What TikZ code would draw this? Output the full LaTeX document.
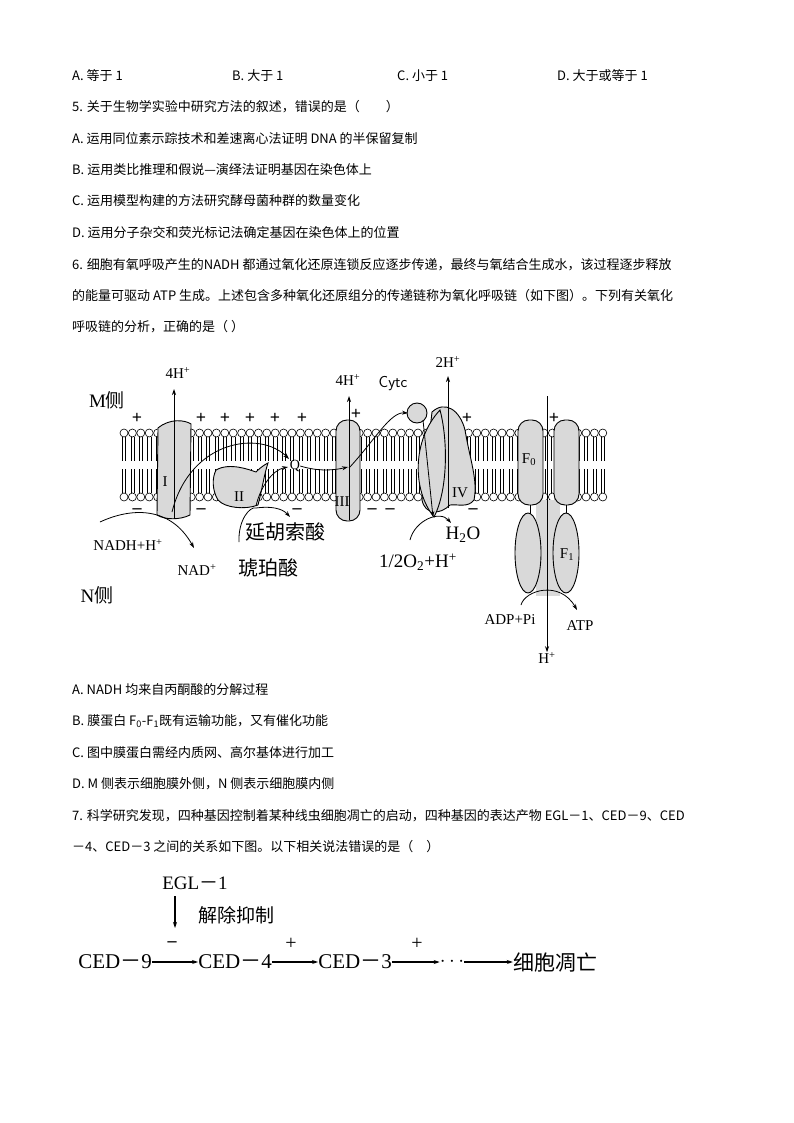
\documentclass[tikz,border=0pt]{standalone}
\usepackage{fontspec}
\setmainfont{Liberation Serif}
\newfontfamily\cjk{Noto Sans CJK SC}
\usetikzlibrary{arrows.meta}
\begin{document}
\begin{tikzpicture}[x=1pt,y=-1pt,
  tx/.style={anchor=west,inner sep=0pt,font=\fontsize{13}{15}\selectfont\cjk},
  lb/.style={inner sep=0pt,font=\fontsize{15}{17}\selectfont},
  lbb/.style={inner sep=0pt,font=\fontsize{19}{21}\selectfont},
  prot/.style={draw,fill=gray!30,line width=0.9pt},
  arr/.style={-{Stealth[length=6pt,width=4pt]},line width=0.8pt},
  sg/.style={inner sep=0pt,font=\bfseries\fontsize{18}{18}\selectfont}]
\useasboundingbox (0,0) rectangle (794,1123);
% question text
\node[tx] (a1) at (72,76) {A.\ 等于 1};
\node[tx] (b1) at (232,76) {B.\ 大于 1};
\node[tx] (c1) at (397,76) {C.\ 小于 1};
\node[tx] (d1) at (557,76) {D.\ 大于或等于 1};
\node[tx] (q5) at (72,107) {5. 关于生物学实验中研究方法的叙述，错误的是（　　）};
\node[tx] (q5a) at (72,139) {A. 运用同位素示踪技术和差速离心法证明 DNA 的半保留复制};
\node[tx] (q5b) at (72,170) {B. 运用类比推理和假说—演绎法证明基因在染色体上};
\node[tx] (q5c) at (72,201) {C. 运用模型构建的方法研究酵母菌种群的数量变化};
\node[tx] (q5d) at (72,233) {D. 运用分子杂交和荧光标记法确定基因在染色体上的位置};
\node[tx] (q6a) at (72,265) {6. 细胞有氧呼吸产生的NADH 都通过氧化还原连锁反应逐步传递，最终与氧结合生成水，该过程逐步释放};
\node[tx] (q6b) at (72,296) {的能量可驱动 ATP 生成。上述包含多种氧化还原组分的传递链称为氧化呼吸链（如下图）。下列有关氧化};
\node[tx] (q6c) at (72,327) {呼吸链的分析，正确的是（ ）};
\node[tx] (o6a) at (72,690) {A. NADH 均来自丙酮酸的分解过程};
\node[tx] (o6b) at (72,721) {B. 膜蛋白 F\textsubscript{0}-F\textsubscript{1}既有运输功能，又有催化功能};
\node[tx] (o6c) at (72,753) {C. 图中膜蛋白需经内质网、高尔基体进行加工};
\node[tx] (o6d) at (72,784) {D. M 侧表示细胞膜外侧，N 侧表示细胞膜内侧};
\node[tx] (q7a) at (72,816) {7. 科学研究发现，四种基因控制着某种线虫细胞凋亡的启动，四种基因的表达产物 EGL－1、CED－9、CED};
\node[tx] (q7b) at (72,847) {－4、CED－3 之间的关系如下图。以下相关说法错误的是（　）};
% membrane
\foreach \x in {124,132.4,...,610}{
  \draw[line width=0.6pt] (\x-1.6,437)--(\x-1.6,461) (\x+1.6,437)--(\x+1.6,461)
        (\x-1.6,469)--(\x-1.6,493) (\x+1.6,469)--(\x+1.6,493);
  \draw[fill=white,line width=0.6pt] (\x,433) circle (4);
  \draw[fill=white,line width=0.6pt] (\x,497) circle (4);
}
% complex I
\path[prot] (158,428) .. controls (170,418) and (185,420) .. (191,424) -- (190,515) .. controls (180,520) and (165,520) .. (157,515) -- cycle;
\node[lb] (cI) at (165,482) {I};
% complex II
\path[prot] (216,470) .. controls (230,462) and (250,470) .. (256,472) .. controls (262,466) and (266,464) .. (268,463) .. controls (264,475) and (262,490) .. (258,505) .. controls (245,510) and (225,508) .. (218,500) .. controls (212,490) and (212,478) .. (216,470) -- cycle;
\node[lb] (cII) at (239,497) {II};
% Q
\node[lb,font=\fontsize{14}{14}\selectfont] (Q) at (295,466) {Q};
% complex III
\path[prot,rounded corners=11pt] (336,420) rectangle (360,521);
\node[lb] (cIII) at (342,502) {III};
% complex IV
\path[prot] (432,412) .. controls (445,400) and (460,410) .. (465,430) .. controls (470,460) and (478,480) .. (474,500) .. controls (468,508) and (458,504) .. (450,505) .. controls (440,515) and (425,515) .. (422,500) -- cycle;
\path[prot] (440,410) .. controls (412,440) and (412,490) .. (434,517) .. controls (448,490) and (448,440) .. (440,410) -- cycle;
\node[lb] (cIV) at (460,493) {IV};
% Cytc
\draw[fill=gray!30,line width=0.9pt] (417,413) circle (10);
% F0 F1
\fill[gray!30] (536,500) rectangle (560,596);
\path[prot,rounded corners=11pt] (518,420) rectangle (543,505);
\path[prot,rounded corners=11pt] (554,420) rectangle (579,505);
\draw (530,505)--(530,515) (566,505)--(566,515);
\path[prot] (528,553) ellipse (13 and 40);
\path[prot] (566,553) ellipse (13 and 40);
\node[lb] (F0) at (529,460) {F\textsubscript{0}};
\node[lb] (F1) at (567,555) {F\textsubscript{1}};
% labels
\node[lbb] (Mside) at (107,400) {M{\cjk 侧}};
\node[lbb] (Nside) at (97,595) {N{\cjk 侧}};
\node[lb] (h1) at (178,373) {4H\textsuperscript{+}};
\node[lb] (h3) at (348,380) {4H\textsuperscript{+}};
\node[lb] (h4) at (448,362) {2H\textsuperscript{+}};
\node[lb,font=\fontsize{16}{18}\selectfont\sffamily] (cyt) at (393,384) {Cytc};
\node[lb] (nadh) at (128,545) {NADH+H\textsuperscript{+}};
\node[lb] (nad) at (197,570) {NAD\textsuperscript{+}};
\node[lbb,font=\fontsize{20}{22}\selectfont\cjk] (fum) at (285,532) {延胡索酸};
\node[lbb,font=\fontsize{20}{22}\selectfont\cjk] (suc) at (268,568) {琥珀酸};
\node[lbb] (h2o) at (463,535) {H\textsubscript{2}O};
\node[lbb] (o2) at (418,562) {1/2O\textsubscript{2}+H\textsuperscript{+}};
\node[lb] (adp) at (510,620) {ADP+Pi};
\node[lb] (atp) at (580,626) {ATP};
\node[lb] (hb) at (547,658) {H\textsuperscript{+}};
% + and -
\foreach \x in {137,201,225,250,275,302,467,554} \node[sg] at (\x,418) {+};
\node[sg] at (356,414) {+};
\foreach \x in {137,201,297,372,390,473} \node[sg] at (\x,511) {--};
% arrows
\draw[arr] (174,518)--(174,389);
\draw[arr] (349,520)--(349,396);
\draw[arr] (448,508)--(448,376);
\draw[arr] (547,396)--(hb.north);
\draw[arr] (100,522) .. controls (130,508) and (170,505) .. (194,548);
\draw[arr] (172,512) .. controls (190,440) and (260,430) .. (289,459);
\draw[arr] (239,542) .. controls (238,520) and (250,506) .. (256,508) .. controls (270,506) and (282,508) .. (290,517);
\draw[arr] (256,506) .. controls (260,488) and (272,470) .. (288,467);
\draw[arr] (Q.east) .. controls (320,472) and (335,470) .. (348,467);
\draw[arr] (349,468) .. controls (375,440) and (390,412) .. (408,413);
\draw[arr] (423,420)--(433,517);
\draw[arr] (410,540) .. controls (415,520) and (440,510) .. (451,523);
\draw[arr] (521,605) .. controls (525,590) and (560,580) .. (577,610);
% bottom diagram
\node[lbb] (egl) at (195,883) {EGL{\cjk －}1};
\draw[arr,line width=1.1pt] (175,896)--(175,928);
\node[lbb,font=\fontsize{19}{21}\selectfont\cjk] (jc) at (236,915) {解除抑制};
\node[sg] at (172,944) {--};
\node[lbb,font=\fontsize{21}{23}\selectfont] (c9) at (115,962) {CED{\cjk －}9};
\node[lbb,font=\fontsize{21}{23}\selectfont] (c4) at (235,962) {CED{\cjk －}4};
\node[lbb,font=\fontsize{21}{23}\selectfont] (c3) at (355,962) {CED{\cjk －}3};
\node[lbb,font=\fontsize{21}{23}\selectfont] (dots) at (452,962) {\textbf{$\cdots$}};
\node[lbb,font=\fontsize{21}{23}\selectfont\cjk] (ap) at (555,962) {细胞凋亡};
\draw[arr,line width=1.3pt] (c9)--(c4);
\draw[arr,line width=1.3pt] (c4)--(c3);
\draw[arr,line width=1.3pt] (c3)--(dots);
\draw[arr,line width=1.3pt] (dots)--(ap);
\node[sg,font=\fontsize{20}{20}\selectfont] at (291,944) {+};
\node[sg,font=\fontsize{20}{20}\selectfont] at (417,944) {+};
\end{tikzpicture}
\end{document}
